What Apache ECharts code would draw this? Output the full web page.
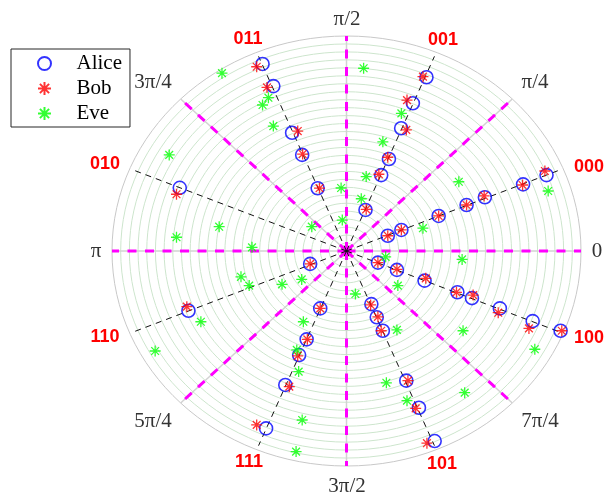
<!DOCTYPE html>
<html><head><meta charset="utf-8">
<script src="https://cdn.jsdelivr.net/npm/echarts@6/dist/echarts.min.js"></script>
<style>html,body{margin:0;padding:0;background:#fff}#c{width:610px;height:494px}</style>
</head><body><div id="c"></div>
<script>
// Received symbols as [real, imag] (outer ring = 1)
const alice = [
  [0.853,0.353],[0.753,0.310],[0.590,0.250],[0.512,0.214],[0.393,0.163],[0.234,0.098],[0.176,0.071],
  [0.341,0.808],[0.283,0.687],[0.233,0.571],[0.181,0.428],[0.148,0.353],[0.081,0.191],
  [-0.358,0.870],[-0.312,0.767],[-0.232,0.550],[-0.189,0.447],[-0.123,0.292],
  [-0.711,0.294],
  [-0.674,-0.278],[-0.155,-0.060],
  [-0.112,-0.267],[-0.170,-0.411],[-0.202,-0.484],[-0.261,-0.623],[-0.343,-0.825],
  [0.106,-0.247],[0.129,-0.308],[0.155,-0.371],[0.255,-0.603],[0.309,-0.729],[0.376,-0.884],
  [0.134,-0.054],[0.215,-0.088],[0.333,-0.138],[0.473,-0.192],[0.535,-0.219],[0.654,-0.267],[0.794,-0.326],[0.913,-0.371]
];
const bob = [
  [0.846,0.372],[0.751,0.307],[0.587,0.256],[0.512,0.214],[0.393,0.163],[0.234,0.098],[0.176,0.071],
  [0.326,0.811],[0.258,0.702],[0.255,0.563],[0.176,0.436],[0.138,0.357],[0.084,0.194],
  [-0.383,0.857],[-0.339,0.761],[-0.208,0.558],[-0.187,0.451],[-0.115,0.292],
  [-0.725,0.264],
  [-0.681,-0.259],[-0.155,-0.060],
  [-0.112,-0.267],[-0.167,-0.411],[-0.208,-0.488],[-0.244,-0.631],[-0.383,-0.809],
  [0.103,-0.251],[0.134,-0.306],[0.148,-0.371],[0.262,-0.603],[0.295,-0.732],[0.343,-0.894],
  [0.134,-0.054],[0.215,-0.085],[0.338,-0.127],[0.469,-0.192],[0.540,-0.205],[0.647,-0.287],[0.778,-0.360],[0.918,-0.371]
];
const eve = [
  [0.860,0.279],[0.479,0.322],[0.326,0.106],[0.167,-0.027],[0.493,-0.039],[0.219,-0.161],[0.038,-0.200],
  [0.215,-0.367],[0.497,-0.371],[0.803,-0.457],[0.170,-0.613],[0.258,-0.696],[0.504,-0.659],
  [0.073,0.850],[0.234,0.640],[0.155,0.508],[0.084,0.346],[0.063,0.243],[-0.023,0.293],[-0.018,0.144],
  [-0.148,0.113],[-0.531,0.827],[-0.333,0.713],[-0.358,0.679],[-0.312,0.581],[-0.756,0.447],
  [-0.543,0.113],[-0.725,0.064],[-0.403,0.017],[-0.450,-0.120],[-0.415,-0.161],[-0.275,-0.155],
  [-0.191,-0.132],[-0.621,-0.329],[-0.816,-0.465],[-0.184,-0.329],[-0.212,-0.460],[-0.204,-0.561],
  [-0.189,-0.786],[-0.215,-0.933]
];
const gridAngles = [0,45,90,135,180,225,270,315];
const angleTickLabels = ['0','π/4','π/2','3π/4','π','5π/4','3π/2','7π/4'];
const symbolAngles = [22.5,67.5,112.5,157.5,202.5,247.5,292.5,337.5];
const symbolLabels = ['000','001','011','010','110','111','101','100'];
const ringCount = 27;
const symbolLineRadius = 0.98;

const chart = echarts.init(document.getElementById('c'), null, {renderer:'canvas'});
const rad = d => d * Math.PI / 180;
const ray = (deg, r) => [[0,0],[r*Math.cos(rad(deg)), r*Math.sin(rad(deg))]];
const asterisk = 'path://M0 -10L0 10M-10 0L10 0M-7.07 -7.07L7.07 7.07M-7.07 7.07L7.07 -7.07';
const rings = [];
for (let i = 1; i <= ringCount; i++) rings.push([i / ringCount, 0]);

const serif = '"Liberation Serif", "Times New Roman", serif';
const tickPos = [[597,251],[535,82],[347,19],[153,82],[96,251],[153,421],[347,486],[540,421]];
const symLabelPos = [[589,167],[443,40],[248,39],[105,164],[105,337],[249,462],[442,464],[589,338]];

const series = [];
series.push({
  type:'custom', coordinateSystem:'cartesian2d', silent:true, z:1,
  data: rings, encode:{x:0, y:1},
  renderItem: (p, api) => {
    const r = api.value(0);
    const c = api.coord([0,0]);
    const s = api.size([r, r]);
    return {type:'ellipse', shape:{cx:c[0], cy:c[1], rx:s[0], ry:s[1]},
      style:{fill:'none', stroke: r > 0.999 ? '#c8c8c8' : '#cde5cd', lineWidth:1}};
  }
});
gridAngles.forEach(a => series.push({
  type:'line', data: ray(a, 1), symbol:'none', silent:true, z:2,
  lineStyle:{color:'#d2d2d2', width:1.5}
}));
gridAngles.forEach(a => series.push({
  type:'line', data: ray(a, 1), symbol:'none', silent:true, z:3,
  lineStyle:{color:'#ff00ff', width:3, type:[9,8.5]}
}));
symbolAngles.forEach(a => series.push({
  type:'line', data: ray(a, symbolLineRadius), symbol:'none', silent:true, z:3,
  lineStyle:{color:'#111', width:1, type:[6,5]}
}));
series.push({name:'Alice', type:'scatter', data: alice, symbol:'circle', symbolSize:13, z:5,
  itemStyle:{color:'rgba(0,0,0,0)', borderColor:'#0000ff', borderWidth:1.6}});
series.push({name:'Bob', type:'scatter', data: bob, symbol:asterisk, symbolSize:11, z:6,
  itemStyle:{color:'#ff0000', borderColor:'#ff0000', borderWidth:1.3}});
series.push({name:'Eve', type:'scatter', data: eve, symbol:asterisk, symbolSize:11, z:7,
  itemStyle:{color:'#00ff00', borderColor:'#00ff00', borderWidth:1.3}});

const graphic = [];
angleTickLabels.forEach((t, i) => graphic.push({
  type:'text', x: tickPos[i][0], y: tickPos[i][1], z:10,
  style:{text:t, fill:'#333', font:'21px ' + serif, textAlign:'center', textVerticalAlign:'middle'}
}));
symbolLabels.forEach((t, i) => graphic.push({
  type:'text', x: symLabelPos[i][0], y: symLabelPos[i][1], z:10,
  style:{text:t, fill:'#ff0000', font:'bold 18px "Liberation Sans", Arial, sans-serif', textAlign:'center', textVerticalAlign:'middle'}
}));

chart.setOption({
  animation:false,
  grid:{left:112, right:29, top:36, bottom:28},
  xAxis:{type:'value', min:-1, max:1, show:false},
  yAxis:{type:'value', min:-1, max:1, show:false},
  legend:{
    orient:'vertical', left:11, top:49, padding:[4,8,3,26],
    itemWidth:54, itemHeight:13, itemGap:4,
    backgroundColor:'#fff', borderColor:'#262626', borderWidth:1,
    textStyle:{fontFamily:serif, fontSize:21, color:'#000', lineHeight:21},
    data:['Alice','Bob','Eve']
  },
  series: series,
  graphic: graphic
});
</script></body></html>
